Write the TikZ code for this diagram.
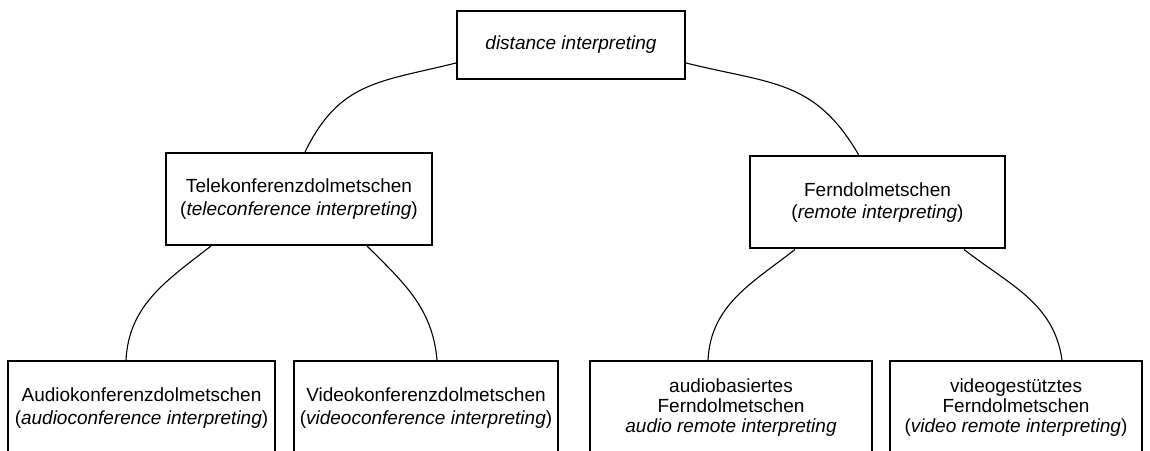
\documentclass[tikz,border=0pt]{standalone}
\usepackage{fontspec}
\setmainfont{Liberation Sans}
\usetikzlibrary{calc}
\tikzset{
  box/.style={draw=black, line width=2pt, fill=white, align=center, inner sep=0pt,
    font=\fontsize{19}{22.5}\selectfont},
  boxthree/.style={box, font=\fontsize{19}{20}\selectfont},
  link/.style={draw=black, line width=1.1pt}
}
\begin{document}
\begin{tikzpicture}[x=1pt,y=1pt]
\clip (0,0) rectangle (1150,450);
\fill[white] (0,0) rectangle (1150,450);
\node[box, minimum width=228pt, minimum height=68pt] (top) at (571,405) {\itshape distance interpreting};
\node[box, minimum width=266pt, minimum height=92pt] (tele) at (299,251) {Telekonferenzdolmetschen\\(\textit{teleconference interpreting})};
\node[box, minimum width=255pt, minimum height=92pt] (fern) at (877.5,247.5) {Ferndolmetschen\\(\textit{remote interpreting})};
\node[box, minimum width=267pt, minimum height=94pt] (audio) at (141.5,42) {Audiokonferenzdolmetschen\\(\textit{audioconference interpreting})};
\node[box, minimum width=264pt, minimum height=94pt] (video) at (426,42) {Videokonferenzdolmetschen\\(\textit{videoconference interpreting})};
\node[boxthree, minimum width=282pt, minimum height=94pt] (aremote) at (731,42) {audiobasiertes\\Ferndolmetschen\\\textit{audio remote interpreting}};
\node[boxthree, minimum width=252pt, minimum height=94pt] (vremote) at (1016,42) {videogestütztes\\Ferndolmetschen\\(\textit{video remote interpreting})};
\draw[link] ([yshift=-18pt]top.west) to[out=194, in=64, looseness=1.15] ([xshift=140pt]tele.north west);
\draw[link] ([yshift=-18pt]top.east) to[out=-14, in=120, looseness=1.15] ([xshift=110pt]fern.north west);
\draw[link] ([xshift=46pt]tele.south west) to[out=218, in=87] ([xshift=119pt]audio.north west);
\draw[link] ([xshift=-66pt]tele.south east) to[out=-45, in=95] ([xshift=144pt]video.north west);
\draw[link] ([xshift=46pt]fern.south west) to[out=218, in=87] ([xshift=119pt]aremote.north west);
\draw[link] ([xshift=-42pt]fern.south east) to[out=-38, in=98] ([xshift=173pt]vremote.north west);
\end{tikzpicture}
\end{document}
